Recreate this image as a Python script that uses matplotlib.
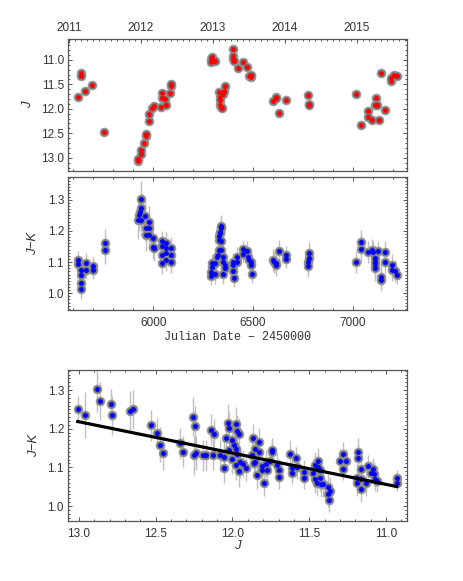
import numpy as np
import matplotlib
matplotlib.use("Agg")
import matplotlib.pyplot as plt
from matplotlib.ticker import MultipleLocator, FixedLocator, NullFormatter, FormatStrFormatter

# ---- light curve (J vs JD - 2450000) ----
jd_j = [5624, 5638, 5638, 5658, 5694, 5755,
        5925, 5926, 5937, 5938, 5955, 5962, 5963, 5978, 5980, 5993, 6003, 6039, 6044, 6043,
        6048, 6060, 6065, 6082, 6087, 6089,
        6288, 6290, 6296, 6310, 6330, 6334, 6336, 6334, 6340, 6343, 6350, 6355, 6358,
        6402, 6400, 6402, 6406, 6423, 6448, 6470, 6480, 6490, 6488,
        6602, 6616, 6618, 6632, 6664, 6778, 6781, 6782,
        7015, 7040, 7078, 7079, 7097, 7117, 7110, 7120, 7132, 7142, 7162, 7192, 7194, 7208, 7221]
j_mag = [11.75, 11.27, 11.32, 11.63, 11.51, 12.47,
         13.07, 13.02, 12.93, 12.85, 12.70, 12.55, 12.51, 12.24, 12.11, 11.99, 11.95, 11.97, 11.67, 11.77,
         11.78, 11.79, 11.93, 11.68, 11.53, 11.49,
         10.99, 11.05, 10.94, 11.03, 11.65, 11.75, 11.81, 11.93, 11.96, 11.99, 11.70, 11.64, 11.53,
         10.77, 10.92, 10.98, 11.02, 11.17, 11.05, 11.15, 11.34, 11.36, 11.31,
         11.85, 11.75, 11.77, 12.09, 11.81, 11.71, 11.90, 11.93,
         11.69, 12.33, 12.05, 12.16, 12.23, 11.78, 11.93, 11.92, 12.23, 11.26, 12.02, 11.44, 11.38, 11.31, 11.33]

# ---- colour curve (J-K vs JD - 2450000) ----
jd_c = [5624, 5622, 5638, 5638, 5638, 5638, 5661, 5661, 5696, 5696, 5758, 5758,
        5925, 5930, 5934, 5939, 5939, 5940, 5959, 5980, 5962, 5980, 5962, 5980, 5997, 5997, 6005,
        6042, 6042, 6042, 6042, 6064, 6064, 6064, 6066, 6089, 6089, 6089,
        6288, 6292, 6296, 6296, 6310, 6310, 6318, 6326, 6331, 6331, 6332, 6333, 6334, 6340, 6342,
        6340, 6342, 6349, 6351, 6349, 6360, 6360,
        6398, 6398, 6402, 6406, 6421, 6421, 6448, 6450, 6468, 6477, 6480, 6489, 6491, 6494,
        6602, 6604, 6616, 6618, 6632, 6664, 6664, 6778, 6780, 6776, 6780,
        7015, 7040, 7040, 7078, 7098, 7104, 7112, 7114, 7113, 7114, 7126, 7141, 7142, 7162, 7163,
        7195, 7197, 7212, 7221]
jk_c = [1.105, 1.093, 1.076, 1.057, 1.034, 1.015, 1.098, 1.076, 1.087, 1.074, 1.162, 1.139,
        1.235, 1.250, 1.262, 1.303, 1.273, 1.235, 1.248, 1.230, 1.209, 1.209, 1.187, 1.187, 1.176, 1.149, 1.144,
        1.166, 1.150, 1.123, 1.096, 1.160, 1.146, 1.128, 1.106, 1.146, 1.123, 1.099,
        1.056, 1.069, 1.084, 1.096, 1.098, 1.063, 1.117, 1.123, 1.139, 1.171, 1.182, 1.193, 1.198, 1.209, 1.216,
        1.166, 1.139, 1.117, 1.099, 1.063, 1.090, 1.080,
        1.099, 1.091, 1.071, 1.049, 1.117, 1.099, 1.142, 1.126, 1.136, 1.117, 1.106, 1.099, 1.091, 1.063,
        1.106, 1.099, 1.096, 1.091, 1.136, 1.123, 1.110, 1.101, 1.114, 1.088, 1.128,
        1.099, 1.142, 1.164, 1.131, 1.139, 1.131, 1.103, 1.114, 1.093, 1.080, 1.134, 1.053, 1.042, 1.131, 1.099,
        1.090, 1.074, 1.071, 1.058]
jk_c_err = [0.032, 0.030, 0.035, 0.033, 0.035, 0.033, 0.030, 0.030, 0.030, 0.030, 0.045, 0.045,
            0.060, 0.050, 0.050, 0.058, 0.050, 0.050, 0.050, 0.050, 0.045, 0.045, 0.050, 0.045, 0.045, 0.040, 0.040,
            0.035, 0.035, 0.035, 0.035, 0.035, 0.035, 0.035, 0.035, 0.035, 0.035, 0.035,
            0.030, 0.030, 0.030, 0.030, 0.035, 0.035, 0.035, 0.035, 0.035, 0.035, 0.035, 0.035, 0.035, 0.035, 0.035,
            0.035, 0.035, 0.030, 0.030, 0.035, 0.030, 0.030,
            0.030, 0.030, 0.030, 0.030, 0.030, 0.030, 0.025, 0.025, 0.030, 0.030, 0.030, 0.030, 0.030, 0.030,
            0.035, 0.035, 0.035, 0.035, 0.035, 0.030, 0.030, 0.035, 0.035, 0.035, 0.035,
            0.035, 0.045, 0.040, 0.035, 0.035, 0.035, 0.040, 0.040, 0.040, 0.040, 0.035, 0.040, 0.035, 0.035, 0.035,
            0.035, 0.035, 0.035, 0.030]

# ---- colour-magnitude (J-K vs J) ----
j_cm = [13.008, 12.96, 12.88, 12.86, 12.79, 12.785, 12.67, 12.65, 12.53, 12.49, 12.47, 12.45, 12.34, 12.325,
        12.26, 12.245, 12.25, 12.24, 12.19, 12.17, 12.14, 12.12, 12.125, 12.08, 12.055, 12.055, 12.04, 12.03,
        12.02, 12.02, 12.005, 12.0, 11.98, 11.97, 11.96, 11.99, 11.98, 11.97, 11.98, 11.96, 11.95, 11.93, 11.91,
        11.865, 11.85, 11.83, 11.83, 11.87, 11.85, 11.86, 11.84, 11.81, 11.81, 11.795, 11.78, 11.775, 11.745,
        11.74, 11.755, 11.71, 11.70, 11.695,
        11.625, 11.615, 11.61, 11.586, 11.578, 11.534, 11.534,
        11.46, 11.474, 11.46, 11.45, 11.44, 11.44, 11.43, 11.43, 11.41, 11.42, 11.376, 11.365, 11.38, 11.37,
        11.30, 11.28, 11.26, 11.28,
        11.18, 11.18, 11.165, 11.19, 11.19, 11.16, 11.16, 11.13, 11.12, 11.10, 11.087, 11.08, 11.07, 11.057,
        10.93, 10.93]
jk_cm = [1.250, 1.235, 1.303, 1.272, 1.263, 1.235, 1.247, 1.250, 1.209, 1.188, 1.159, 1.137, 1.162, 1.140,
         1.231, 1.208, 1.131, 1.137, 1.131, 1.131, 1.197, 1.186, 1.133, 1.131, 1.126, 1.099, 1.176, 1.214,
         1.203, 1.146, 1.122, 1.171, 1.212, 1.195, 1.187, 1.159, 1.148, 1.135, 1.107, 1.090, 1.113, 1.109, 1.099,
         1.177, 1.148, 1.166, 1.140, 1.133, 1.114, 1.110, 1.080, 1.103, 1.092, 1.060, 1.109, 1.092, 1.140,
         1.146, 1.116, 1.107, 1.092, 1.075,
         1.135, 1.099, 1.086, 1.123, 1.101, 1.088, 1.073,
         1.105, 1.086, 1.069, 1.060, 1.116, 1.101, 1.092, 1.073, 1.058, 1.058, 1.049, 1.039, 1.032, 1.015,
         1.117, 1.135, 1.117, 1.097,
         1.141, 1.125, 1.096, 1.073, 1.060, 1.069, 1.045, 1.060, 1.103, 1.086, 1.095, 1.083, 1.070, 1.066,
         1.073, 1.060]
jk_cm_err = [0.035, 0.060, 0.060, 0.050, 0.040, 0.050, 0.050, 0.050, 0.040, 0.040, 0.045, 0.045, 0.040, 0.040,
             0.050, 0.050, 0.050, 0.045, 0.040, 0.040, 0.040, 0.040, 0.040, 0.040, 0.040, 0.040, 0.045, 0.050,
             0.040, 0.040, 0.040, 0.040, 0.045, 0.040, 0.040, 0.040, 0.040, 0.040, 0.040, 0.040, 0.040, 0.035, 0.035,
             0.035, 0.035, 0.035, 0.035, 0.035, 0.035, 0.035, 0.035, 0.035, 0.035, 0.035, 0.035, 0.035, 0.030,
             0.030, 0.030, 0.030, 0.030, 0.030,
             0.035, 0.030, 0.030, 0.030, 0.030, 0.030, 0.030,
             0.035, 0.035, 0.035, 0.035, 0.035, 0.035, 0.035, 0.035, 0.035, 0.035, 0.035, 0.035, 0.035, 0.030,
             0.030, 0.030, 0.030, 0.030,
             0.035, 0.035, 0.035, 0.035, 0.035, 0.035, 0.035, 0.035, 0.030, 0.030, 0.030, 0.030, 0.030, 0.030,
             0.020, 0.020]

# linear fit drawn in the bottom panel
fit_slope = 0.081
fit_intercept = 0.165

# calendar axis on top of the light curve (positions)
years = [2011, 2012, 2013, 2014, 2015]
year_jd = [5577, 5938, 6300, 6661, 7022]

plt.rcParams['font.family'] = ['Liberation Sans', 'DejaVu Sans']
TXT = "#333333"
SPINE = "#555555"


def style_axes(ax):
    for s in ax.spines.values():
        s.set_color(SPINE)
        s.set_linewidth(0.9)
    ax.tick_params(which='both', direction='in', top=True, right=True,
                   color=SPINE, labelcolor=TXT, labelsize=8.5, width=0.7)
    ax.tick_params(which='major', length=3.2)
    ax.tick_params(which='minor', length=1.6)
    ax.tick_params(axis='x', pad=5)
    ax.tick_params(axis='y', pad=3)


def dots(ax, x, y, color):
    # grey halo under a small coloured dot
    ax.plot(x, y, 'o', ls='none', ms=6.4, mfc='#707070', mec='#a0a0a0', mew=0.6, alpha=0.9, zorder=3)
    ax.plot(x, y, 'o', ls='none', ms=3.5, mfc=color, mec=color, mew=0, zorder=4)


fig = plt.figure(figsize=(4.64, 5.81), dpi=100)
fig.patch.set_facecolor('white')

ax1 = fig.add_axes([0.147, 0.7057, 0.7295, 0.2267])
ax2 = fig.add_axes([0.147, 0.4664, 0.7295, 0.2290])
ax3 = fig.add_axes([0.147, 0.1038, 0.7295, 0.2594])

xlim_jd = (5574, 7271)

# ---- top: J light curve ----
dots(ax1, jd_j, j_mag, '#ff0000')
ax1.set_xlim(*xlim_jd)
ax1.set_ylim(13.27, 10.58)
style_axes(ax1)
ax1.tick_params(top=False)
ax1.xaxis.set_major_locator(MultipleLocator(500))
ax1.xaxis.set_minor_locator(MultipleLocator(100))
ax1.xaxis.set_major_formatter(NullFormatter())
ax1.yaxis.set_major_locator(MultipleLocator(0.5))
ax1.yaxis.set_minor_locator(MultipleLocator(0.1))
ax1.yaxis.set_major_formatter(FormatStrFormatter('%.1f'))
ax1.set_ylabel('J', style='italic', color=TXT, fontsize=9.5)
ax1.yaxis.set_label_coords(-0.10, 0.5)

axt = ax1.twiny()
axt.set_xlim(*xlim_jd)
axt.xaxis.set_major_locator(FixedLocator(year_jd))
axt.set_xticklabels([str(y) for y in years])
month_step = (year_jd[-1] - year_jd[0]) / (len(years) - 1) / 12
axt.xaxis.set_minor_locator(FixedLocator(np.arange(year_jd[0], xlim_jd[1], month_step)))
for s in axt.spines.values():
    s.set_visible(False)
axt.tick_params(which='both', direction='in', color=SPINE, labelcolor=TXT, labelsize=8.5, width=0.7, pad=4)
axt.tick_params(which='major', length=3.2)
axt.tick_params(which='minor', length=1.6)
axt.set_xlim(*xlim_jd)

# ---- middle: J-K vs time ----
ax2.errorbar(jd_c, jk_c, yerr=jk_c_err, fmt='none', ecolor='#c0c0c0', elinewidth=1.0, capsize=0, zorder=2)
dots(ax2, jd_c, jk_c, '#0000ff')
ax2.set_xlim(*xlim_jd)
ax2.set_ylim(0.946, 1.373)
style_axes(ax2)
ax2.xaxis.set_major_locator(MultipleLocator(500))
ax2.xaxis.set_minor_locator(MultipleLocator(100))
ax2.yaxis.set_major_locator(MultipleLocator(0.1))
ax2.yaxis.set_minor_locator(MultipleLocator(0.01))
ax2.yaxis.set_major_formatter(FormatStrFormatter('%.1f'))
ax2.set_xlabel('Julian Date \u2212 2450000', family=['Liberation Mono', 'DejaVu Sans Mono'],
               color=TXT, fontsize=8.5)
ax2.xaxis.set_label_coords(0.5, -0.155)
ax2.set_ylabel('J\u2212K', style='italic', color=TXT, fontsize=9.5)
ax2.yaxis.set_label_coords(-0.085, 0.5)

# ---- bottom: colour-magnitude ----
ax3.errorbar(j_cm, jk_cm, yerr=jk_cm_err, fmt='none', ecolor='#c0c0c0', elinewidth=1.0, capsize=0, zorder=2)
dots(ax3, j_cm, jk_cm, '#0000ff')
fit_x = np.array([max(j_cm), min(j_cm)])
ax3.plot(fit_x, fit_intercept + fit_slope * fit_x, color='black', lw=2.3, zorder=5)
ax3.set_xlim(13.07, 10.865)
ax3.set_ylim(0.962, 1.352)
style_axes(ax3)
ax3.xaxis.set_major_locator(MultipleLocator(0.5))
ax3.xaxis.set_minor_locator(MultipleLocator(0.1))
ax3.xaxis.set_major_formatter(FormatStrFormatter('%.1f'))
ax3.yaxis.set_major_locator(MultipleLocator(0.1))
ax3.yaxis.set_minor_locator(MultipleLocator(0.01))
ax3.yaxis.set_major_formatter(FormatStrFormatter('%.1f'))
ax3.set_xlabel('J', style='italic', color=TXT, fontsize=9.5)
ax3.xaxis.set_label_coords(0.5, -0.13)
ax3.set_ylabel('J\u2212K', style='italic', color=TXT, fontsize=9.5)
ax3.yaxis.set_label_coords(-0.082, 0.5)

fig.savefig('out.png', dpi=100)
